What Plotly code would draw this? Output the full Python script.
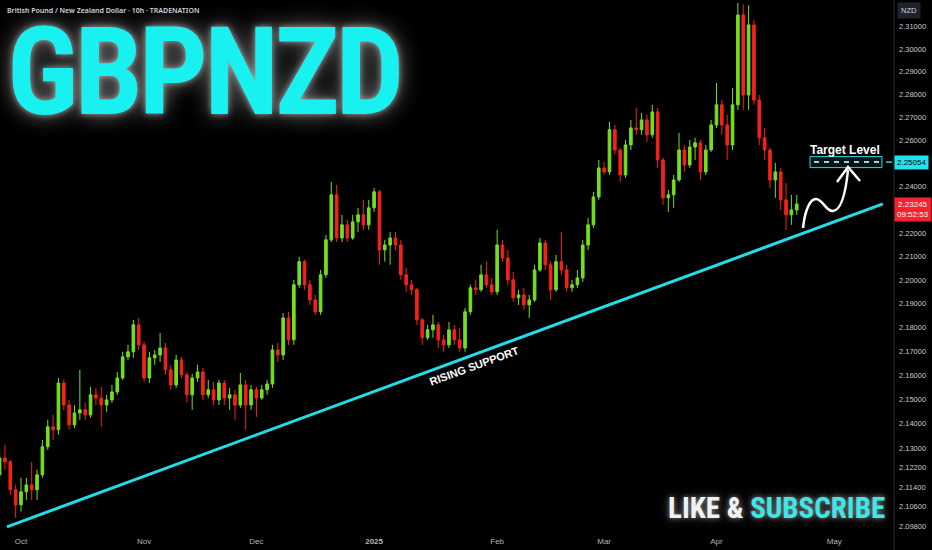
import math
import pandas as pd
import plotly.graph_objects as go

# ---------------- data ----------------
SYMBOL = "GBPNZD"
HEADER = "British Pound / New Zealand Dollar · 10h · TRADENATION"
START_DATE = "2024-09-25"
FIRST_OPEN = 2.1190

close = [2.1259, 2.1243, 2.1129, 2.1068, 2.1121, 2.1149, 2.1129, 2.1190, 2.1305, 2.1387,
         2.1375, 2.1568, 2.1477, 2.1395, 2.1444, 2.1457, 2.1436, 2.1519, 2.1506, 2.1477,
         2.1498, 2.1531, 2.1589, 2.1677, 2.1698, 2.1811, 2.1727, 2.1589, 2.1673, 2.1685,
         2.1714, 2.1623, 2.1560, 2.1664, 2.1602, 2.1519, 2.1589, 2.1614, 2.1519, 2.1540,
         2.1498, 2.1568, 2.1506, 2.1519, 2.1477, 2.1560, 2.1477, 2.1540, 2.1506, 2.1540,
         2.1564, 2.1706, 2.1685, 2.1840, 2.1748, 2.1980, 2.2078, 2.1980, 2.1916, 2.1866,
         2.2022, 2.2171, 2.2364, 2.2179, 2.2235, 2.2179, 2.2248, 2.2278, 2.2235, 2.2308,
         2.2377, 2.2128, 2.2149, 2.2179, 2.2149, 2.2022, 2.1980, 2.1959, 2.1832, 2.1757,
         2.1790, 2.1811, 2.1748, 2.1727, 2.1790, 2.1748, 2.1714, 2.1866, 2.1967, 2.1959,
         2.2022, 2.1980, 2.1950, 2.2149, 2.2094, 2.2001, 2.1925, 2.1937, 2.1895, 2.1916,
         2.2043, 2.2158, 2.2065, 2.1959, 2.2078, 2.2043, 2.1967, 2.1980, 2.2009, 2.2149,
         2.2235, 2.2355, 2.2480, 2.2463, 2.2646, 2.2558, 2.2450, 2.2580, 2.2654, 2.2646,
         2.2689, 2.2624, 2.2724, 2.2515, 2.2351, 2.2364, 2.2428, 2.2558, 2.2493, 2.2571,
         2.2589, 2.2463, 2.2558, 2.2667, 2.2755, 2.2667, 2.2580, 2.2755, 2.3152, 2.2798,
         2.3108, 2.2776, 2.2611, 2.2558, 2.2428, 2.2463, 2.2342, 2.2278, 2.2299, 2.23245]

high = [2.1284, 2.1313, 2.1251, 2.1149, 2.1178, 2.1178, 2.1243, 2.1211, 2.1333, 2.1416,
        2.1436, 2.1589, 2.1581, 2.1498, 2.1477, 2.1623, 2.1486, 2.1552, 2.1548, 2.1552,
        2.1519, 2.1560, 2.1614, 2.1698, 2.1727, 2.1832, 2.1840, 2.1740, 2.1698, 2.1706,
        2.1777, 2.1735, 2.1644, 2.1685, 2.1677, 2.1614, 2.1606, 2.1644, 2.1631, 2.1581,
        2.1573, 2.1581, 2.1581, 2.1548, 2.1540, 2.1610, 2.1581, 2.1560, 2.1552, 2.1560,
        2.1581, 2.1727, 2.1735, 2.1861, 2.1866, 2.2001, 2.2099, 2.2086, 2.2001, 2.1937,
        2.2043, 2.2192, 2.2420, 2.2407, 2.2278, 2.2256, 2.2278, 2.2308, 2.2342, 2.2342,
        2.2394, 2.2385, 2.2171, 2.2205, 2.2205, 2.2171, 2.2052, 2.2001, 2.1967, 2.1840,
        2.1811, 2.1853, 2.1823, 2.1769, 2.1823, 2.1811, 2.1798, 2.1882, 2.1980, 2.2001,
        2.2065, 2.2078, 2.2009, 2.2214, 2.2171, 2.2128, 2.2035, 2.1959, 2.1967, 2.1937,
        2.2065, 2.2179, 2.2171, 2.2078, 2.2107, 2.2205, 2.2065, 2.2001, 2.2043, 2.2171,
        2.2265, 2.2377, 2.2515, 2.2506, 2.2680, 2.2667, 2.2567, 2.2602, 2.2689, 2.2741,
        2.2720, 2.2711, 2.2755, 2.2741, 2.2524, 2.2385, 2.2450, 2.2632, 2.2580, 2.2602,
        2.2611, 2.2602, 2.2580, 2.2689, 2.2851, 2.2776, 2.2711, 2.2829, 2.3206, 2.3200,
        2.3195, 2.3130, 2.2798, 2.2654, 2.2567, 2.2502, 2.2480, 2.2415, 2.2364, 2.2364]

low = [2.1170, 2.1211, 2.1108, 2.1015, 2.1040, 2.1088, 2.1088, 2.1088, 2.1178, 2.1292,
       2.1333, 2.1354, 2.1457, 2.1375, 2.1383, 2.1416, 2.1416, 2.1424, 2.1477, 2.1387,
       2.1449, 2.1486, 2.1519, 2.1581, 2.1664, 2.1673, 2.1706, 2.1573, 2.1568, 2.1644,
       2.1656, 2.1602, 2.1540, 2.1548, 2.1589, 2.1486, 2.1457, 2.1573, 2.1498, 2.1506,
       2.1477, 2.1477, 2.1477, 2.1457, 2.1416, 2.1465, 2.1375, 2.1457, 2.1428, 2.1498,
       2.1519, 2.1548, 2.1656, 2.1664, 2.1727, 2.1727, 2.1967, 2.1959, 2.1895, 2.1853,
       2.1853, 2.2009, 2.2162, 2.2162, 2.2162, 2.2162, 2.2171, 2.2205, 2.2214, 2.2214,
       2.2291, 2.2065, 2.2078, 2.2065, 2.2128, 2.2001, 2.1950, 2.1937, 2.1811, 2.1727,
       2.1748, 2.1757, 2.1714, 2.1698, 2.1714, 2.1727, 2.1698, 2.1698, 2.1853, 2.1937,
       2.1950, 2.1967, 2.1937, 2.1937, 2.2078, 2.1980, 2.1908, 2.1895, 2.1874, 2.1840,
       2.1908, 2.2035, 2.2043, 2.1916, 2.1950, 2.2022, 2.1950, 2.1950, 2.1967, 2.1992,
       2.2128, 2.2222, 2.2342, 2.2450, 2.2450, 2.2537, 2.2420, 2.2437, 2.2558, 2.2624,
       2.2624, 2.2593, 2.2611, 2.2480, 2.2321, 2.2291, 2.2308, 2.2420, 2.2463, 2.2480,
       2.2515, 2.2428, 2.2450, 2.2550, 2.2654, 2.2624, 2.2515, 2.2558, 2.2733, 2.2733,
       2.2733, 2.2755, 2.2580, 2.2515, 2.2394, 2.2351, 2.2299, 2.2214, 2.2235, 2.2278]

TARGET = 2.25054
LAST = 2.23245
COUNTDOWN = "09:52:53"
SUPPORT_X = ["2024-09-26 09:00", "2025-05-14 02:24"]
SUPPORT_Y = [2.0979, 2.2325]
X_RANGE = ["2024-09-25 01:48", "2025-05-16 04:20"]
Y_RANGE = [2.0954, 2.3219]
Y_TICKS = [2.098, 2.106, 2.114, 2.122, 2.13, 2.14, 2.15, 2.16, 2.17, 2.18, 2.19,
           2.20, 2.21, 2.22, 2.24, 2.26, 2.27, 2.28, 2.29, 2.30, 2.31]
X_TICKS = ["2024-10-01", "2024-11-01", "2024-12-02", "2025-01-01",
           "2025-02-03", "2025-03-03", "2025-04-01", "2025-05-01"]
X_TICK_TEXT = ["Oct", "Nov", "Dec", "<b>2025</b>", "Feb", "Mar", "Apr", "May"]

# ---------------- styling ----------------
GREEN = "#74e01c"
RED = "#f5221a"
CYAN = "#22dce8"
BG = "#000000"
W, H = 932, 550
ML, MR, MT, MB = 0, 38, 0, 17
PW, PH = W - ML - MR, H - MT - MB
TITLE_FONT = "Roboto Condensed, DejaVu Sans Condensed, Liberation Sans"


def px(x):
    return x / PW


def py(y):
    return 1 - y / PH


dates = pd.bdate_range(START_DATE, periods=len(close))
opens = [FIRST_OPEN] + close[:-1]

fig = go.Figure()
fig.add_trace(go.Candlestick(
    x=dates, open=opens, high=high, low=low, close=close,
    increasing=dict(line=dict(color=GREEN, width=1), fillcolor=GREEN),
    decreasing=dict(line=dict(color=RED, width=1), fillcolor=RED),
    whiskerwidth=0, hoverinfo="skip", showlegend=False,
))
fig.add_trace(go.Scatter(
    x=SUPPORT_X, y=SUPPORT_Y, mode="lines",
    line=dict(color=CYAN, width=3), hoverinfo="skip", showlegend=False,
))

shapes = []
shapes.append(dict(type="line", xref="paper", yref="paper", x0=1, x1=1, y0=-MB / PH, y1=1,
                   line=dict(color="#2a2e39", width=1)))
half = math.exp(5.5 / 5194)
shapes.append(dict(type="rect", xref="paper", yref="y", x0=px(810), x1=px(882),
                   y0=TARGET / half, y1=TARGET * half,
                   line=dict(color=CYAN, width=1), fillcolor="rgba(0,220,235,0.10)"))
shapes.append(dict(type="line", xref="paper", yref="y", x0=px(814), x1=px(880),
                   y0=TARGET, y1=TARGET, line=dict(color="white", width=1.5, dash="5px,5px")))
shapes.append(dict(type="line", xref="paper", yref="y", x0=px(886), x1=px(892),
                   y0=TARGET, y1=TARGET, line=dict(color=CYAN, width=1.5)))
path = (f"M {px(803)},{py(228)} C {px(805)},{py(210)} {px(810)},{py(199)} {px(816)},{py(199)} "
        f"C {px(823)},{py(199)} {px(826)},{py(212)} {px(833)},{py(211)} "
        f"C {px(842)},{py(210)} {px(846)},{py(190)} {px(848)},{py(170)} "
        f"M {px(837)},{py(182)} L {px(848)},{py(167)} L {px(860)},{py(181)}")
shapes.append(dict(type="path", xref="paper", yref="paper", path=path,
                   line=dict(color="white", width=2.5)))

ann = []
ann.append(dict(xref="paper", yref="paper", x=px(5), y=py(10.5), xanchor="left", yanchor="middle",
                text=HEADER, showarrow=False,
                font=dict(family="Noto Sans, Liberation Sans", size=7, color="#d1d4dc", weight=600)))
ann.append(dict(xref="paper", yref="paper", x=px(204), y=py(73), xanchor="center", yanchor="middle",
                text=f"<span style='letter-spacing:-4px'>{SYMBOL}</span>", showarrow=False,
                font=dict(family=TITLE_FONT, size=122, color="#19f1f1", weight=700,
                          shadow="0 0 6px rgba(255,255,255,0.55), 0 0 22px rgba(255,255,255,0.45)")))
ann.append(dict(xref="paper", yref="paper", x=px(776), y=py(507.5), xanchor="center", yanchor="middle",
                text="LIKE & <span style='color:#3fe6e8'>SUBSCRIBE</span>", showarrow=False,
                font=dict(family=TITLE_FONT, size=29, color="#f2f2f2", weight=700,
                          shadow="0 0 5px rgba(255,255,255,0.45), 0 0 12px rgba(255,255,255,0.3)")))
ann.append(dict(xref="paper", yref="paper", x=px(474), y=py(366), xanchor="center", yanchor="middle",
                text="RISING SUPPORT", showarrow=False, textangle=-20,
                font=dict(family="Liberation Sans", size=11, color="white", weight=700)))
ann.append(dict(xref="paper", yref="paper", x=px(845), y=py(149.5), xanchor="center", yanchor="middle",
                text="Target Level", showarrow=False,
                font=dict(family="Liberation Sans", size=12, color="white", weight=600)))
ann.append(dict(xref="paper", yref="y", x=1, y=math.log10(TARGET), xanchor="left", yanchor="middle",
                text="2.25054", showarrow=False, bgcolor="#22e3f0", borderpad=2,
                font=dict(family="Liberation Sans", size=8, color="#000000")))
ann.append(dict(xref="paper", yref="y", x=1, y=math.log10(LAST), xanchor="left", yanchor="top",
                yshift=7, text=f"{LAST:.5f}<br>{COUNTDOWN}", showarrow=False, bgcolor="#f5222d",
                borderpad=2, align="center",
                font=dict(family="Liberation Sans", size=8, color="#ffffff")))
ann.append(dict(xref="paper", yref="paper", x=1, y=py(10.5), xanchor="left", yanchor="middle",
                xshift=3, text="NZD", showarrow=False, bgcolor="#1e222d", borderpad=3,
                font=dict(family="Liberation Sans", size=7.5, color="#d1d4dc")))

fig.update_layout(
    width=W, height=H, margin=dict(l=ML, r=MR, t=MT, b=MB),
    paper_bgcolor=BG, plot_bgcolor=BG, showlegend=False,
    shapes=shapes, annotations=ann,
    xaxis=dict(type="date", range=X_RANGE, rangeslider=dict(visible=False),
               rangebreaks=[dict(bounds=["sat", "mon"])],
               tickvals=X_TICKS, ticktext=X_TICK_TEXT, showgrid=False, zeroline=False,
               showline=False, ticks="", ticklabelstandoff=2,
               tickfont=dict(family="Liberation Sans", size=8, color="#b2b5be")),
    yaxis=dict(type="log", side="right", range=[math.log10(Y_RANGE[0]), math.log10(Y_RANGE[1])],
               tickvals=Y_TICKS, tickformat=".5f", showgrid=False, zeroline=False,
               showline=False, ticks="", ticklabelstandoff=4,
               tickfont=dict(family="Liberation Sans", size=7.5, color="#c8cad0")),
)

fig.write_html("out.html", config={"displayModeBar": False},
               post_script="document.body.style.margin='0';document.body.style.padding='0';"
                           "document.body.style.background='#000';")
